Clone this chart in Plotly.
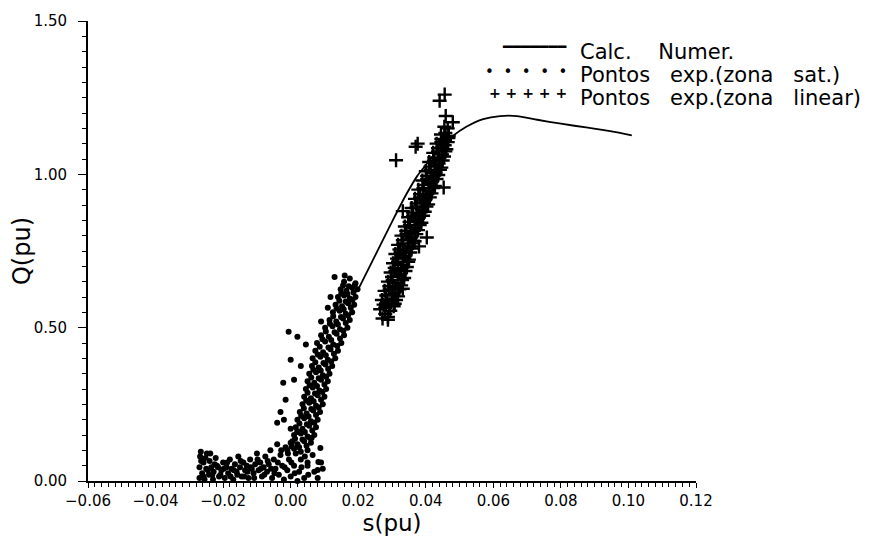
import plotly.graph_objects as go

# ---- calculated curve (Calc. Numer.) ----
curve_s = [0.0200, 0.0250, 0.0300, 0.0340, 0.0375, 0.0400, 0.0440, 0.0480, 0.0520,
           0.0570, 0.0620, 0.0670, 0.0730, 0.0800, 0.0880, 0.0950, 0.1010]
curve_q = [0.625, 0.735, 0.845, 0.930, 0.995, 1.030, 1.085, 1.125, 1.155,
           1.180, 1.190, 1.190, 1.178, 1.165, 1.152, 1.140, 1.127]

# ---- experimental points, saturated zone (dots) ----
sat_s = [
    -0.0270, -0.0270, -0.0268, -0.0262, -0.0258, -0.0255, -0.0250, -0.0248, -0.0242, -0.0240,
    -0.0235, -0.0230, -0.0228, -0.0222, -0.0218, -0.0212, -0.0205, -0.0200, -0.0195, -0.0190,
    -0.0185, -0.0180, -0.0175, -0.0170, -0.0165, -0.0160, -0.0155, -0.0150, -0.0145, -0.0140,
    -0.0135, -0.0130, -0.0125, -0.0120, -0.0115, -0.0110, -0.0105, -0.0100, -0.0095, -0.0090,
    -0.0085, -0.0080, -0.0075, -0.0070, -0.0065, -0.0060, -0.0055, -0.0050, -0.0045, -0.0040,
    -0.0035, -0.0030, -0.0025, -0.0020, -0.0015, -0.0010, -0.0005, 0.0000, 0.0005, 0.0010,
    0.0015, 0.0020, 0.0025, 0.0030, 0.0040, 0.0050, 0.0060, 0.0070, 0.0080, 0.0090,
    0.0095, -0.0024, 0.0000, 0.0080, 0.0050, 0.0088, 0.0082, 0.0065, -0.0266, -0.0262,
    -0.0265, -0.0258, -0.0252, -0.0245, -0.0238, -0.0232, -0.0225, -0.0215, -0.0208, -0.0198,
    -0.0188, -0.0178, -0.0168, -0.0158, -0.0148, -0.0138, -0.0128, -0.0118, -0.0108, -0.0098,
    -0.0088, -0.0078, -0.0068, -0.0058, -0.0048, -0.0038, -0.0028, -0.0018, -0.0008, 0.0002,
    0.0012, 0.0022, 0.0032, 0.0042, 0.0052, 0.0062,
    # rising band
    -0.0010, 0.0010, 0.0030, 0.0050,
    0.0003, 0.0025, 0.0047,
    0.0000, 0.0020, 0.0040, 0.0060,
    0.0013, 0.0035, 0.0057,
    0.0010, 0.0030, 0.0050, 0.0070,
    0.0020, 0.0042, 0.0064,
    0.0015, 0.0035, 0.0055, 0.0075,
    0.0026, 0.0048, 0.0070,
    0.0020, 0.0040, 0.0060, 0.0080,
    0.0031, 0.0053, 0.0075,
    0.0027, 0.0047, 0.0067, 0.0087,
    0.0039, 0.0061, 0.0083,
    0.0035, 0.0055, 0.0075, 0.0095,
    0.0046, 0.0068, 0.0090,
    0.0040, 0.0060, 0.0080, 0.0100,
    0.0050, 0.0072, 0.0094,
    0.0045, 0.0065, 0.0085, 0.0105,
    0.0056, 0.0078, 0.0100,
    0.0050, 0.0070, 0.0090, 0.0110,
    0.0061, 0.0083, 0.0105,
    0.0055, 0.0075, 0.0095, 0.0115,
    0.0067, 0.0089, 0.0111,
    0.0063, 0.0083, 0.0103, 0.0123,
    0.0073, 0.0097, 0.0120,
    0.0065, 0.0088, 0.0110, 0.0132,
    0.0080, 0.0104, 0.0128,
    0.0073, 0.0096, 0.0118, 0.0140,
    0.0086, 0.0112, 0.0138,
    0.0078, 0.0102, 0.0126, 0.0150,
    0.0094, 0.0120, 0.0146,
    0.0090, 0.0113, 0.0136, 0.0158,
    0.0104, 0.0130, 0.0156,
    0.0102, 0.0124, 0.0146, 0.0168,
    0.0116, 0.0140, 0.0163,
    0.0115, 0.0135, 0.0155, 0.0175,
    0.0126, 0.0149, 0.0170,
    0.0125, 0.0145, 0.0163, 0.0182,
    0.0136, 0.0157, 0.0178,
    0.0133, 0.0152, 0.0170, 0.0188,
    0.0144, 0.0163, 0.0183,
    0.0140, 0.0158, 0.0175, 0.0192,
    0.0150, 0.0168, 0.0186,
    0.0148, 0.0165, 0.0182, 0.0198,
    0.0155, 0.0172, 0.0190,
    0.0158, 0.0175, 0.0192,
    # scattered points left of the band
    -0.0006, 0.0020, 0.0045, 0.0000, 0.0030, -0.0022, 0.0010, -0.0015, -0.0030, -0.0020,
    0.0000, -0.0040, 0.0020, 0.0110, 0.0090, 0.0118, 0.0130, 0.0160,
]
sat_q = [
    0.010, 0.045, 0.080, 0.025, 0.060, 0.005, 0.040, 0.090, 0.020, 0.065,
    0.045, 0.005, 0.030, 0.075, 0.050, 0.015, 0.035, 0.060, 0.010, 0.045,
    0.025, 0.070, 0.040, 0.005, 0.055, 0.030, 0.080, 0.045, 0.015, 0.060,
    0.035, 0.050, 0.010, 0.070, 0.040, 0.025, 0.055, 0.090, 0.035, 0.060,
    0.015, 0.045, 0.080, 0.030, 0.055, 0.100, 0.010, 0.070, 0.040, 0.120,
    0.020, 0.085, 0.050, 0.005, 0.110, 0.035, 0.070, 0.015, 0.130, 0.050,
    0.090, 0.000, 0.030, 0.070, 0.010, 0.050, -0.005, 0.030, 0.010, 0.060,
    0.040, -0.088, -0.030, 0.036, 0.060, 0.108, 0.062, 0.085, 0.095, 0.070,
    0.065, 0.015, 0.075, 0.035, 0.090, 0.020, 0.055, 0.045, 0.020, 0.040,
    0.060, 0.015, 0.035, 0.020, 0.065, 0.015, 0.030, 0.045, 0.010, 0.070,
    0.040, 0.020, 0.065, 0.040, 0.025, 0.060, 0.100, 0.045, 0.090, 0.060,
    0.025, 0.110, 0.045, 0.080, 0.020, 0.140,
    # rising band
    0.100, 0.105, 0.095, 0.100,
    0.1125, 0.110, 0.115,
    0.125, 0.120, 0.130, 0.125,
    0.1375, 0.135, 0.140,
    0.150, 0.155, 0.145, 0.150,
    0.1625, 0.160, 0.165,
    0.175, 0.170, 0.180, 0.175,
    0.1875, 0.185, 0.190,
    0.200, 0.205, 0.195, 0.200,
    0.2125, 0.210, 0.215,
    0.225, 0.220, 0.230, 0.225,
    0.2375, 0.235, 0.240,
    0.250, 0.255, 0.245, 0.250,
    0.2625, 0.260, 0.265,
    0.275, 0.270, 0.280, 0.275,
    0.2875, 0.285, 0.290,
    0.300, 0.305, 0.295, 0.300,
    0.3125, 0.310, 0.315,
    0.325, 0.320, 0.330, 0.325,
    0.3375, 0.335, 0.340,
    0.350, 0.355, 0.345, 0.350,
    0.3625, 0.360, 0.365,
    0.375, 0.370, 0.380, 0.375,
    0.3875, 0.385, 0.390,
    0.400, 0.405, 0.395, 0.400,
    0.4125, 0.410, 0.415,
    0.425, 0.420, 0.430, 0.425,
    0.4375, 0.435, 0.440,
    0.450, 0.455, 0.445, 0.450,
    0.4625, 0.460, 0.465,
    0.475, 0.470, 0.480, 0.475,
    0.4875, 0.485, 0.490,
    0.500, 0.505, 0.495, 0.500,
    0.5125, 0.510, 0.515,
    0.525, 0.520, 0.530, 0.525,
    0.5375, 0.535, 0.540,
    0.550, 0.555, 0.545, 0.550,
    0.5625, 0.560, 0.565,
    0.575, 0.570, 0.580, 0.575,
    0.5875, 0.585, 0.590,
    0.600, 0.605, 0.595, 0.600,
    0.6125, 0.610, 0.615,
    0.625, 0.620, 0.630, 0.625,
    0.6375, 0.635, 0.640,
    0.650, 0.660, 0.645,
    # scattered points left of the band
    0.487, 0.470, 0.445, 0.395, 0.375, 0.320, 0.330, 0.265, 0.225, 0.200,
    0.170, 0.190, 0.160, 0.565, 0.520, 0.600, 0.665, 0.670,
]

# ---- experimental points, linear zone (crosses) ----
lin_s = [
    0.0272, 0.0288, 0.0280,
    0.0265, 0.0280, 0.0295, 0.0305,
    0.0275, 0.0292, 0.0308,
    0.0270, 0.0285, 0.0300, 0.0312,
    0.0283, 0.0301, 0.0318,
    0.0278, 0.0293, 0.0308, 0.0322,
    0.0292, 0.0310, 0.0327,
    0.0288, 0.0302, 0.0317, 0.0330,
    0.0300, 0.0319, 0.0336,
    0.0296, 0.0310, 0.0325, 0.0340,
    0.0308, 0.0327, 0.0344,
    0.0303, 0.0318, 0.0333, 0.0348,
    0.0315, 0.0333, 0.0350,
    0.0310, 0.0325, 0.0340, 0.0354,
    0.0322, 0.0340, 0.0358,
    0.0318, 0.0333, 0.0348, 0.0362,
    0.0332, 0.0350, 0.0367,
    0.0328, 0.0343, 0.0357, 0.0372,
    0.0342, 0.0360, 0.0377,
    0.0338, 0.0353, 0.0367, 0.0382,
    0.0352, 0.0370, 0.0387,
    0.0348, 0.0362, 0.0377, 0.0392,
    0.0362, 0.0381, 0.0397,
    0.0358, 0.0373, 0.0388, 0.0402,
    0.0373, 0.0391, 0.0407,
    0.0368, 0.0383, 0.0398, 0.0412,
    0.0383, 0.0401, 0.0417,
    0.0378, 0.0393, 0.0408, 0.0422,
    0.0394, 0.0411, 0.0427,
    0.0390, 0.0404, 0.0418, 0.0432,
    0.0404, 0.0421, 0.0437,
    0.0400, 0.0414, 0.0428, 0.0442,
    0.0414, 0.0431, 0.0446,
    0.0410, 0.0424, 0.0438, 0.0450,
    0.0425, 0.0440, 0.0454,
    0.0422, 0.0436, 0.0448, 0.0458,
    0.0436, 0.0449, 0.0461,
    0.0432, 0.0446, 0.0456, 0.0465,
    0.0446, 0.0457, 0.0467,
    0.0445, 0.0458, 0.0468,
    0.0455, 0.0465,
    # outliers
    0.0312, 0.0376, 0.0370, 0.0441, 0.0456, 0.0459, 0.0480, 0.0453, 0.0403, 0.0380,
    0.0332, 0.0332, 0.0288,
]
lin_q = [
    0.530, 0.535, 0.545,
    0.560, 0.565, 0.555, 0.570,
    0.575, 0.572, 0.578,
    0.590, 0.585, 0.595, 0.590,
    0.605, 0.608, 0.602,
    0.620, 0.625, 0.615, 0.625,
    0.635, 0.632, 0.638,
    0.650, 0.655, 0.645, 0.655,
    0.665, 0.668, 0.662,
    0.680, 0.685, 0.675, 0.685,
    0.695, 0.692, 0.698,
    0.710, 0.715, 0.705, 0.715,
    0.725, 0.728, 0.722,
    0.740, 0.745, 0.735, 0.745,
    0.755, 0.752, 0.758,
    0.770, 0.775, 0.765, 0.775,
    0.785, 0.788, 0.782,
    0.800, 0.805, 0.795, 0.805,
    0.815, 0.812, 0.818,
    0.830, 0.835, 0.825, 0.835,
    0.845, 0.848, 0.842,
    0.860, 0.865, 0.855, 0.865,
    0.875, 0.872, 0.878,
    0.890, 0.895, 0.885, 0.895,
    0.905, 0.908, 0.902,
    0.920, 0.925, 0.915, 0.925,
    0.935, 0.932, 0.938,
    0.950, 0.955, 0.945, 0.955,
    0.965, 0.968, 0.962,
    0.980, 0.985, 0.975, 0.985,
    0.995, 0.992, 0.998,
    1.010, 1.015, 1.005, 1.015,
    1.025, 1.028, 1.022,
    1.040, 1.045, 1.035, 1.045,
    1.055, 1.052, 1.058,
    1.070, 1.075, 1.065, 1.075,
    1.085, 1.088, 1.082,
    1.100, 1.105, 1.095, 1.105,
    1.115, 1.112, 1.118,
    1.130, 1.135, 1.125,
    1.155, 1.150,
    # outliers
    1.046, 1.100, 1.090, 1.240, 1.260, 1.190, 1.170, 0.957, 0.794, 0.765,
    0.880, 0.627, 0.526,
]

x_tick_vals = [-0.06, -0.04, -0.02, 0.00, 0.02, 0.04, 0.06, 0.08, 0.10, 0.12]
y_tick_vals = [0.00, 0.50, 1.00, 1.50]

legend_labels = ["Calc.    Numer.", "Pontos   exp.(zona   sat.)", "Pontos   exp.(zona   linear)"]
legend_samples = ["━━━━━━━", "•  •  •  •  •", "<b>+ + + + +</b>"]

FONT = "DejaVu Sans"

fig = go.Figure()
fig.add_trace(go.Scatter(
    x=curve_s, y=curve_q, mode="lines", name=legend_labels[0],
    line=dict(color="black", width=1.8, shape="spline", smoothing=0.6),
))
fig.add_trace(go.Scatter(
    x=sat_s, y=sat_q, mode="markers", name=legend_labels[1],
    marker=dict(symbol="circle", size=6, color="black"), cliponaxis=False,
))
fig.add_trace(go.Scatter(
    x=lin_s, y=lin_q, mode="markers", name=legend_labels[2],
    marker=dict(symbol="cross-thin", size=10, color="black",
                line=dict(color="black", width=2.4)),
    cliponaxis=False,
))

# legend drawn as text (sample glyph rows + labels), positioned in paper space
leg_text_y = [0.933, 0.884, 0.833]
leg_samp_y = [0.943, 0.889, 0.843]
leg_samp_size = [15, 15, 14]
annotations = []
for lab, ty in zip(legend_labels, leg_text_y):
    annotations.append(dict(
        xref="paper", yref="paper", x=0.806, y=ty, xanchor="left", yanchor="middle",
        text=lab, showarrow=False, height=23,
        font=dict(family=FONT, size=21, color="black"),
    ))
for samp, sy, ss in zip(legend_samples, leg_samp_y, leg_samp_size):
    annotations.append(dict(
        xref="paper", yref="paper", x=0.791, y=sy, xanchor="right", yanchor="middle",
        text=samp, showarrow=False, font=dict(family=FONT, size=ss, color="black"),
    ))

# the page body adds an 8px offset; the figure is sized/margined to compensate
fig.update_layout(
    width=861, height=530,
    margin=dict(l=80, r=173, t=13, b=57),
    paper_bgcolor="white", plot_bgcolor="white",
    font=dict(family=FONT, color="black", size=14),
    showlegend=False,
    annotations=annotations,
)
fig.update_xaxes(
    range=[-0.06, 0.12], tickvals=x_tick_vals, tickformat=".2f",
    automargin=False,
    showgrid=False, zeroline=False,
    showline=True, linecolor="black", linewidth=1.5,
    ticks="outside", ticklen=5, tickwidth=1.2, tickcolor="black",
    minor=dict(dtick=0.002, ticks="outside", ticklen=4, tickwidth=1, tickcolor="black"),
    tickfont=dict(family=FONT, size=15, color="black"),
    ticklabelstandoff=0,
    title=dict(text="s(pu)", font=dict(family=FONT, size=23, color="black"), standoff=2),
)
fig.update_yaxes(
    range=[0, 1.5], tickvals=y_tick_vals, tickformat=".2f",
    automargin=False,
    showgrid=False, zeroline=False,
    showline=True, linecolor="black", linewidth=1.8,
    ticks="outside", ticklen=8, tickwidth=1.2, tickcolor="black",
    minor=dict(dtick=0.05, ticks="outside", ticklen=4, tickwidth=1, tickcolor="black"),
    tickfont=dict(family=FONT, size=15, color="black"),
    ticklabelstandoff=8,
    title=dict(text="Q(pu)", font=dict(family=FONT, size=24, color="black"), standoff=0),
)

fig.write_html("out.html")
